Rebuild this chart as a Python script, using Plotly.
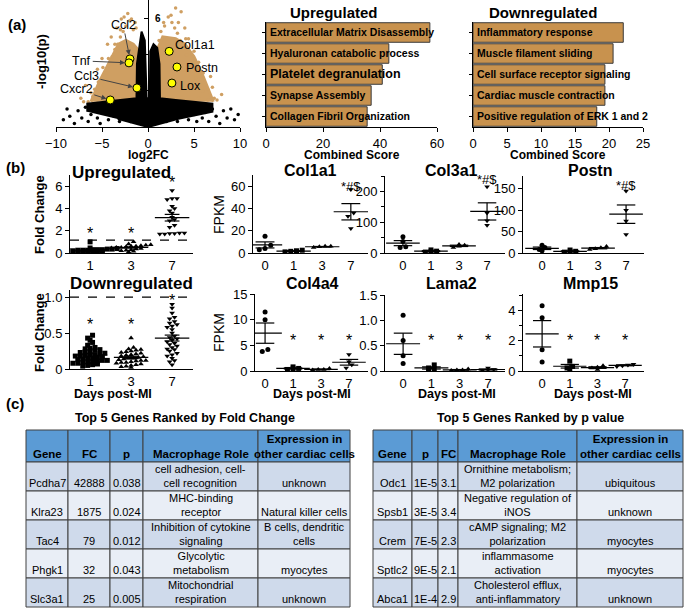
import numpy as np
import plotly.graph_objects as go

W, H = 685, 609
FONT = "Liberation Sans, Arial, sans-serif"
TAN = "#CF9F62"
BAR = "#C8924E"

# ---------------- (a) volcano plot: log2FC vs -log10(p) ----------------
# outlines of the dense clouds
tan_left_fc = [-6.2, -5.3, -4.1, -3.2, -2.4, -1.6, -1.1, -1.0]
tan_left_p = [1.4, 2.5, 3.7, 4.6, 4.8, 4.6, 4.3, 1.4]
tan_right_fc = [1.0, 1.1, 1.6, 3.0, 4.0, 5.0, 6.0, 7.1]
tan_right_p = [1.4, 4.4, 5.0, 4.9, 4.6, 3.9, 2.8, 1.4]
blk_fc = [-6.6, -6.6, -3.0, -1.25, -1.2, -0.9, -0.7, -0.35, -0.15, 0.2, 0.25, 0.6, 1.0,
          1.25, 1.3, 3.0, 7.0, 7.0, 3.3, 0.0, -3.3]
blk_p = [0.85, 1.3, 1.5, 1.6, 3.5, 4.6, 5.3, 4.8, 1.6, 1.6, 4.2, 4.6, 4.4,
         3.5, 1.6, 1.5, 1.3, 0.85, 0.45, 0.0, 0.45]
# scattered genes around the clouds
tan_fc = [-6.5, -6.0, -5.5, -5.8, -5.2, -4.8, -4.6, -4.2, -3.9, -3.6, -3.3, -3.0, -2.7, -2.4, -2.2,
          -2.0, -1.6, -3.4, -4.4, -5.0, -6.8, -7.3, -4.0, -2.9, -1.3, -5.5,
          -7.0, -6.2, -5.4, -4.9, -4.3, -3.6, -3.0, -2.6, -1.8, -1.4,
          5.5, 6.0, 6.5, 7.0, 5.2, 4.8, 4.5, 4.2, 3.8, 3.5, 3.2, 2.9, 2.6, 3.6, 2.2,
          1.8, 1.4, 5.0, 6.0, 7.5, 4.0, 3.0, 5.5, 8.0, 6.8, 4.4,
          1.2, 1.7, 2.5, 3.3, 4.1, 4.9, 5.8, 6.5, 7.2]
tan_p = [1.4, 1.7, 1.5, 2.1, 2.6, 2.3, 3.0, 3.4, 3.9, 4.3, 4.6, 5.0, 5.3, 5.6, 6.3,
         5.9, 5.4, 5.5, 4.6, 3.8, 2.3, 1.6, 5.0, 6.0, 5.5, 3.2,
         1.4, 1.9, 2.5, 3.3, 3.8, 4.6, 5.4, 6.1, 6.0, 5.8,
         1.6, 2.0, 1.5, 2.2, 2.7, 3.1, 3.6, 4.0, 4.4, 4.8, 5.2, 5.5, 5.8, 6.4, 6.1,
         5.6, 5.3, 4.2, 3.0, 1.5, 5.5, 6.6, 3.6, 1.8, 2.8, 4.9,
         4.8, 5.8, 6.2, 5.8, 4.9, 3.9, 2.8, 2.1, 1.6]
bg_fc = [-9.2, -8.8, -8.5, -8.0, -7.6, -7.2, -6.8, -6.5, -6.2, -5.8, -5.5, -5.2, -4.9, -4.6, -4.3,
         -4.0, -3.7, -3.4, -3.1, -2.8, -2.5, -2.2, -1.9, -1.6, -1.3, -1.1,
         1.1, 1.4, 1.7, 2.0, 2.3, 2.6, 2.9, 3.2, 3.5, 3.8, 4.1, 4.4, 4.7, 5.0, 5.3,
         5.6, 5.9, 6.2, 6.6, 7.0, 7.4, 7.8, 8.2, 8.6, 9.0, 9.4, 9.8]
bg_p = [0.4, 1.0, 0.6, 0.2, 0.9, 0.5, 1.1, 0.3, 0.7, 1.0, 0.5, 0.2, 0.8, 1.2, 0.4,
        0.9, 0.6, 1.1, 0.3, 0.8, 0.5, 1.0, 0.3, 0.7, 0.4, 1.1,
        1.1, 0.4, 0.8, 0.3, 1.0, 0.5, 0.9, 0.3, 1.1, 0.6, 0.9, 0.4, 1.2, 0.7, 0.3,
        1.0, 0.5, 0.8, 0.3, 1.0, 0.6, 0.2, 0.9, 0.5, 1.0, 0.4, 0.7]

hl_genes = ["Ccl2", "Tnf", "Ccl3", "Cxcr2", "Col1a1", "Postn", "Lox"]
hl_fc = [-1.96, -2.07, -1.2, -4.1, 2.3, 3.15, 2.6]
hl_p = [3.78, 3.56, 2.17, 1.5, 4.2, 3.33, 2.44]
hl_lab_fc = [-2.7, -7.2, -6.7, -7.8, 5.1, 5.9, 4.6]
hl_lab_p = [5.67, 3.67, 2.83, 2.1, 4.56, 3.28, 2.28]
hl_arrow = [True, True, True, True, False, False, False]

# ---------------- (a) enrichment bars ----------------
up_terms = ["Extracellular Matrix Disassembly", "Hyaluronan catabolic process",
            "Platelet degranulation", "Synapse Assembly", "Collagen Fibril Organization"]
up_scores = [57.5, 43.1, 40.8, 36.9, 35.5]
down_terms = ["Inflammatory response", "Muscle filament sliding",
              "Cell surface receptor signaling", "Cardiac muscle contraction",
              "Positive regulation of ERK 1 and 2"]
down_scores = [22.1, 20.6, 19.4, 19.4, 18.2]

# ---------------- (b) fold change / FPKM ----------------
fold_days = ["1", "3", "7"]
up_d1 = [1.0, 0.45, 0.4, 0.35, 0.35, 0.3, 0.3, 0.3, 0.25, 0.25, 0.25, 0.2, 0.2, 0.2,
         0.15, 0.15, 0.1, 0.1, 0.05, 0.05]
up_d3 = [1.0, 0.8, 0.75, 0.7, 0.65, 0.6, 0.6, 0.55, 0.5, 0.5, 0.45, 0.4, 0.35, 0.3,
         0.25, 0.2, 0.15, 0.1]
up_d7 = [5.6, 4.9, 4.9, 4.8, 4.2, 4.0, 3.8, 3.6, 3.2, 3.0, 2.9, 2.5, 2.3, 1.8, 1.8,
         1.75, 1.75, 1.7, 1.7]
down_d1 = [0.47, 0.43, 0.40, 0.37, 0.33, 0.30, 0.29, 0.28, 0.27, 0.26, 0.25, 0.24, 0.23,
           0.22, 0.21, 0.20, 0.20, 0.19, 0.18, 0.18, 0.17, 0.16, 0.15, 0.15, 0.14, 0.13,
           0.12, 0.12, 0.11, 0.10, 0.10, 0.09, 0.08, 0.08, 0.07, 0.06, 0.05, 0.04]
down_d3 = [0.43, 0.30, 0.28, 0.27, 0.26, 0.25, 0.24, 0.23, 0.22, 0.21, 0.20, 0.19, 0.18,
           0.17, 0.16, 0.15, 0.15, 0.14, 0.13, 0.12, 0.12, 0.11, 0.10, 0.09, 0.09, 0.08,
           0.07, 0.06, 0.05, 0.04, 0.03, 0.02]
down_d7 = [0.90, 0.85, 0.78, 0.72, 0.70, 0.66, 0.64, 0.62, 0.60, 0.58, 0.55, 0.50, 0.46,
           0.44, 0.42, 0.40, 0.38, 0.36, 0.34, 0.32, 0.30, 0.28, 0.27, 0.25, 0.22, 0.20,
           0.18, 0.15, 0.12, 0.10, 0.06]
up_ref, down_ref = 1.15, 1.0
up_star_y = [1.75, 1.75, 6.3]
down_star_y = [0.62, 0.62, 0.95]

fpkm_days = ["0", "1", "3", "7"]
col1a1 = [[15, 7, 4, 3], [1, 1.5, 2, 2.5], [5, 5.5, 6, 6], [57, 36, 33, 22]]
col3a1 = [[53, 37, 18, 20], [3, 5, 6, 10], [18, 22, 25, 28], [215, 130, 105, 90]]
postn = [[18, 13, 8, 5], [2, 3, 4, 7], [8, 10, 12, 15], [145, 100, 75, 43]]
col4a4 = [[11.5, 10, 4.2, 3.8], [0.3, 0.4, 0.5, 0.8], [0.2, 0.3, 0.3, 0.5], [3.2, 1.8, 1.2, 0.6]]
lama2 = [[1.1, 0.6, 0.3, 0.15], [0.02, 0.04, 0.06, 0.12], [0.01, 0.02, 0.02, 0.04], [0.01, 0.02, 0.03, 0.06]]
mmp15 = [[4.3, 3.5, 1.4, 0.6], [0.1, 0.2, 0.3, 0.65], [0.1, 0.2, 0.25, 0.35], [0.3, 0.35, 0.4, 0.45]]
sig_top = {"col1a1": 60, "col3a1": 238, "postn": 158}
sig_low = {"col4a4": 6, "lama2": 0.6, "mmp15": 2}

# ---------------- (c) tables ----------------
fc_head = ["Gene", "FC", "p", "Macrophage Role", "Expression in<br>other cardiac cells"]
fc_gene = ["Pcdha7", "Klra23", "Tac4", "Phgk1", "Slc3a1"]
fc_fc = ["42888", "1875", "79", "32", "25"]
fc_p = ["0.038", "0.024", "0.012", "0.043", "0.005"]
fc_role = ["cell adhesion, cell-<br>cell recognition", "MHC-binding<br>receptor",
           "Inhibition of cytokine<br>signaling", "Glycolytic<br>metabolism",
           "Mitochondrial<br>respiration"]
fc_expr = ["unknown", "Natural killer cells", "B cells, dendritic<br>cells", "myocytes", "unknown"]

p_head = ["Gene", "p", "FC", "Macrophage Role", "Expression in<br>other cardiac cells"]
p_gene = ["Odc1", "Spsb1", "Crem", "Sptlc2", "Abca1"]
p_p = ["1E-5", "3E-5", "7E-5", "9E-5", "1E-4"]
p_fc = ["3.1", "3.4", "2.3", "2.1", "2.9"]
p_role = ["Ornithine metabolism;<br>M2 polarization", "Negative regulation of<br>iNOS",
          "cAMP signaling; M2<br>polarization", "inflammasome<br>activation",
          "Cholesterol efflux,<br>anti-inflammatory"]
p_expr = ["ubiquitous", "unknown", "myocytes", "myocytes", "unknown"]


def dx(a, b):
    return [a / W, b / W]


def dy(top, bottom):
    return [1 - bottom / H, 1 - top / H]


def axis(**kw):
    d = dict(showline=True, linecolor="black", linewidth=1, showgrid=False, zeroline=False,
             ticks="outside", ticklen=4, tickcolor="black", automargin=False,
             tickfont=dict(size=13, color="black", family=FONT), fixedrange=True)
    d.update(kw)
    return d


def swarm(vals, binw, step):
    vals = np.asarray(vals, dtype=float)
    off = np.zeros(len(vals))
    bins = np.round(vals / binw)
    for b in np.unique(bins):
        idx = np.where(bins == b)[0]
        idx = idx[np.argsort(vals[idx])]
        n = len(idx)
        off[idx] = (np.arange(n) - (n - 1) / 2) * step
    return off


fig = go.Figure()
layout = {}
annots = []
shapes = []


def text(t, px, py, size=13, bold=True, angle=0, xanchor="center", yanchor="middle"):
    annots.append(dict(text=("<b>%s</b>" % t) if bold else t, x=px / W, y=1 - py / H,
                       xref="paper", yref="paper", showarrow=False, textangle=angle,
                       xanchor=xanchor, yanchor=yanchor, align="center",
                       font=dict(size=size, color="black", family=FONT)))


# ---- volcano ----
for xs, ys, col in [(tan_left_fc, tan_left_p, TAN), (tan_right_fc, tan_right_p, TAN)]:
    fig.add_trace(go.Scatter(x=xs, y=ys, mode="lines", fill="toself", fillcolor=col,
                             line=dict(color=col, width=3), xaxis="x", yaxis="y"))
fig.add_trace(go.Scatter(x=tan_fc, y=tan_p, mode="markers", xaxis="x", yaxis="y",
                         marker=dict(size=3.5, color=TAN)))
fig.add_trace(go.Scatter(x=blk_fc, y=blk_p, mode="lines", fill="toself", fillcolor="black",
                         line=dict(color="black", width=2), xaxis="x", yaxis="y"))
fig.add_trace(go.Scatter(x=bg_fc, y=bg_p, mode="markers", xaxis="x", yaxis="y",
                         marker=dict(size=3.5, color="black")))
fig.add_trace(go.Scatter(x=hl_fc, y=hl_p, mode="markers", xaxis="x", yaxis="y",
                         marker=dict(size=8, color="#FFFF00", line=dict(color="black", width=1))))
layout["xaxis"] = axis(domain=dx(56, 240), range=[-10, 10], tickvals=[-10, -5, 0, 5, 10], anchor="y")
layout["yaxis"] = axis(domain=dy(0, 127), range=[0, 7.05], tickvals=[2, 4, 6], showticklabels=False,
                       anchor="free", position=148 / W)
for g, fx, fp, lx, ly, arr in zip(hl_genes, hl_fc, hl_p, hl_lab_fc, hl_lab_p, hl_arrow):
    if arr:
        annots.append(dict(text=g, x=fx, y=fp, ax=lx, ay=ly, xref="x", yref="y", axref="x", ayref="y",
                           showarrow=True, arrowhead=2, arrowsize=1, arrowwidth=1, standoff=4,
                           font=dict(size=12.5, color="black", family=FONT)))
    else:
        annots.append(dict(text=g, x=lx, y=ly, xref="x", yref="y", showarrow=False,
                           font=dict(size=12.5, color="black", family=FONT)))
annots.append(dict(text="<b>6</b>", x=1.1, y=6.0, xref="x", yref="y", showarrow=False,
                   font=dict(size=10, color="black", family=FONT)))
text("(a)", 17, 25, 15)
text("-log10(p)", 42, 62, 13, angle=-90)
text("log2FC", 148, 155, 12)

# ---- enrichment bars ----
for k, terms, scores, xd, rng, tv, ttl, sizes in [
        (2, up_terms, up_scores, (266, 437), [0, 60], [0, 20, 40, 60], "Upregulated",
         [10.5, 10.5, 12.5, 10.5, 10.5]),
        (3, down_terms, down_scores, (473, 643), [0, 25], [0, 5, 10, 15, 20, 25], "Downregulated",
         [10.5] * 5)]:
    pos = list(range(len(terms)))
    fig.add_trace(go.Bar(x=scores, y=pos, orientation="h", xaxis="x%d" % k, yaxis="y%d" % k,
                         width=0.93, marker=dict(color=BAR, line=dict(color="#3a3a3a", width=1))))
    layout["xaxis%d" % k] = axis(domain=dx(*xd), range=rng, tickvals=tv, anchor="y%d" % k)
    layout["yaxis%d" % k] = axis(domain=dy(22, 127), range=[4.5, -0.5], tickvals=pos,
                                 showticklabels=False, ticklen=3, anchor="x%d" % k)
    for p, t, s in zip(pos, terms, sizes):
        annots.append(dict(text="<b>%s</b>" % t, x=0, y=p, xref="x%d" % k, yref="y%d" % k,
                           xanchor="left", xshift=2, showarrow=False,
                           font=dict(size=s, color="black", family=FONT)))
    mid = (xd[0] + xd[1]) / 2
    text(ttl, mid - 18 if k == 2 else mid - 15, 13, 15)
    text("Combined Score", mid, 155, 12)


# ---- dot plots ----
def dot_panel(k, groups, xd, yd, xr, yr, tv, ttxt, labels, binw, step, hw, cw, msize=5):
    if len(groups) == 3:
        symbols = ["square", "triangle-up", "triangle-down"]
    else:
        symbols = ["circle", "square", "triangle-up", "triangle-down"]
    mx, my = [], []
    for i, (vals, sym) in enumerate(zip(groups, symbols)):
        off = swarm(vals, binw, step)
        fig.add_trace(go.Scatter(x=i + off, y=vals, mode="markers", xaxis="x%d" % k, yaxis="y%d" % k,
                                 marker=dict(symbol=sym, size=msize, color="black")))
        v = np.asarray(vals, dtype=float)
        m = v.mean()
        s = v.std(ddof=1) / np.sqrt(len(v))
        mx += [i - hw, i + hw, None, i, i, None, i - cw, i + cw, None, i - cw, i + cw, None]
        my += [m, m, None, m - s, m + s, None, m + s, m + s, None, m - s, m - s, None]
    fig.add_trace(go.Scatter(x=mx, y=my, mode="lines", xaxis="x%d" % k, yaxis="y%d" % k,
                             line=dict(color="black", width=1.2)))
    layout["xaxis%d" % k] = axis(domain=dx(*xd), range=xr, tickvals=list(range(len(groups))),
                                 ticktext=labels, ticks="", anchor="y%d" % k)
    layout["yaxis%d" % k] = axis(domain=dy(*yd), range=yr, tickvals=tv,
                                 ticktext=ttxt, anchor="x%d" % k)


def stars(k, xs, ys, t="*", size=16):
    for x, y in zip(xs, ys):
        annots.append(dict(text=t, x=x, y=y, xref="x%d" % k, yref="y%d" % k, showarrow=False,
                           font=dict(size=size, color="black", family=FONT)))


dot_panel(4, [up_d1, up_d3, up_d7], (70, 193), (175, 253), [-0.49, 2.51], [0, 7],
          [0, 2, 4, 6], None, fold_days, 0.3, 0.12, 0.42, 0.18)
shapes += [
    dict(type="line", xref="x4 domain", yref="y4", x0=0, x1=1, y0=up_ref, y1=up_ref,
         line=dict(color="black", width=1.3, dash="dash")),
    dict(type="line", xref="x8 domain", yref="y8", x0=0, x1=1, y0=down_ref, y1=down_ref,
         line=dict(color="black", width=1.3, dash="dash")),
]
stars(4, [0, 1, 2], up_star_y)
dot_panel(8, [down_d1, down_d3, down_d7], (70, 193), (290, 369), [-0.49, 2.51], [0, 1.1],
          [0, 0.5, 1.0], ["0", "0.5", "1.0"], fold_days, 0.05, 0.12, 0.42, 0.18)
stars(8, [0, 1, 2], down_star_y)

dot_panel(5, col1a1, (253, 368), (175, 253), [-0.42, 3.6], [0, 70], [0, 20, 40, 60], None,
          fpkm_days, 5, 0.2, 0.6, 0.33)
dot_panel(6, col3a1, (385, 505), (176, 253), [-0.64, 3.64], [0, 250], [0, 100, 200], None,
          fpkm_days, 18, 0.2, 0.6, 0.33)
dot_panel(7, postn, (523, 644), (176, 253), [-0.68, 3.64], [0, 180], [0, 50, 100, 150], None,
          fpkm_days, 12, 0.2, 0.6, 0.33)
dot_panel(9, col4a4, (255, 368), (294, 371), [-0.36, 3.68], [0, 15], [0, 5, 10, 15], None,
          fpkm_days, 1.0, 0.2, 0.6, 0.33)
dot_panel(10, lama2, (385, 505), (295, 371), [-0.64, 3.6], [0, 1.5], [0, 0.5, 1.0, 1.5],
          ["0", "0.5", "1.0", "1.5"], fpkm_days, 0.1, 0.2, 0.6, 0.33)
dot_panel(11, mmp15, (523, 644), (294, 371), [-0.69, 3.68], [0, 5.07], [0, 2, 4], None,
          fpkm_days, 0.35, 0.2, 0.6, 0.33)
layout["yaxis11"]["minor"] = dict(dtick=1, ticks="outside", ticklen=3, tickcolor="black")
layout["yaxis6"]["minor"] = dict(dtick=50, ticks="outside", ticklen=3, tickcolor="black")

stars(5, [3], [sig_top["col1a1"]], "*#$", 13)
stars(6, [3], [sig_top["col3a1"]], "*#$", 13)
stars(7, [3], [sig_top["postn"]], "*#$", 13)
stars(9, [1, 2, 3], [sig_low["col4a4"]] * 3)
stars(10, [1, 2, 3], [sig_low["lama2"]] * 3)
stars(11, [1, 2, 3], [sig_low["mmp15"]] * 3)

text("(b)", 15, 167, 15)
text("Upregulated", 121, 172, 17)
text("Downregulated", 131, 283, 17)
text("Fold Change", 39, 215, 13, angle=-90)
text("Fold Change", 39, 333, 13, angle=-90)
text("FPKM", 219, 215, 14, bold=False, angle=-90)
text("FPKM", 219, 333, 14, bold=False, angle=-90)
for t, px, py in [("Col1a1", 310, 170), ("Col3a1", 452, 170), ("Postn", 590, 170),
                  ("Col4a4", 312, 283), ("Lama2", 452, 283), ("Mmp15", 590, 283)]:
    text(t, px, py, 16)
for px in (113, 312, 457, 593):
    text("Days post-MI", px, 394, 12.5)

# ---- tables (cells drawn as rectangles, text as annotations) ----
text("(c)", 15, 403, 15)
text("Top 5 Genes Ranked by Fold Change", 185, 418, 12.5)
text("Top 5 Genes Ranked by p value", 530, 418, 12.5)

HEAD_FILL, ROW_A, ROW_B = "#5B9BD5", "#CFDAEB", "#E9EEF6"
TOP, HEAD_H, ROW_H = 430, 32, 29


def table(head, cols, x0, widths):
    edges = np.concatenate([[x0], x0 + np.cumsum(widths)])
    nrows = len(cols[0])
    for j in range(len(cols)):
        xa, xb = edges[j], edges[j + 1]
        cells = [(TOP, TOP + HEAD_H, HEAD_FILL, "<b>%s</b>" % head[j].replace("<br>", "</b><br><b>"), 11.5)]
        for r in range(nrows):
            ya = TOP + HEAD_H + r * ROW_H
            cells.append((ya, ya + ROW_H, ROW_A if r % 2 == 0 else ROW_B, cols[j][r], 11))
        for ya, yb, fill, t, fs in cells:
            shapes.append(dict(type="rect", xref="paper", yref="paper", layer="below",
                               x0=xa / W, x1=xb / W, y0=1 - yb / H, y1=1 - ya / H,
                               fillcolor=fill, line=dict(color="#404040", width=1)))
            text(t, (xa + xb) / 2, yb, fs, bold=False, yanchor="bottom")


table(fc_head, [fc_gene, fc_fc, fc_p, fc_role, fc_expr], 26, [42, 42, 33, 115, 92])
table(p_head, [p_gene, p_p, p_fc, p_role, p_expr], 373, [39, 26, 20, 119, 106])

layout.update(dict(width=W, height=H, margin=dict(l=0, r=0, t=0, b=0), showlegend=False,
                   template="none", paper_bgcolor="white", plot_bgcolor="rgba(0,0,0,0)",
                   font=dict(family=FONT, color="black"), annotations=annots, shapes=shapes,
                   bargap=0.05))
fig.update_layout(**layout)
# the page's default 8px body margin would shift the whole figure
fig.write_html("out.html", config={"displayModeBar": False},
               post_script="document.body.style.margin='0px';document.body.style.overflow='hidden';")
